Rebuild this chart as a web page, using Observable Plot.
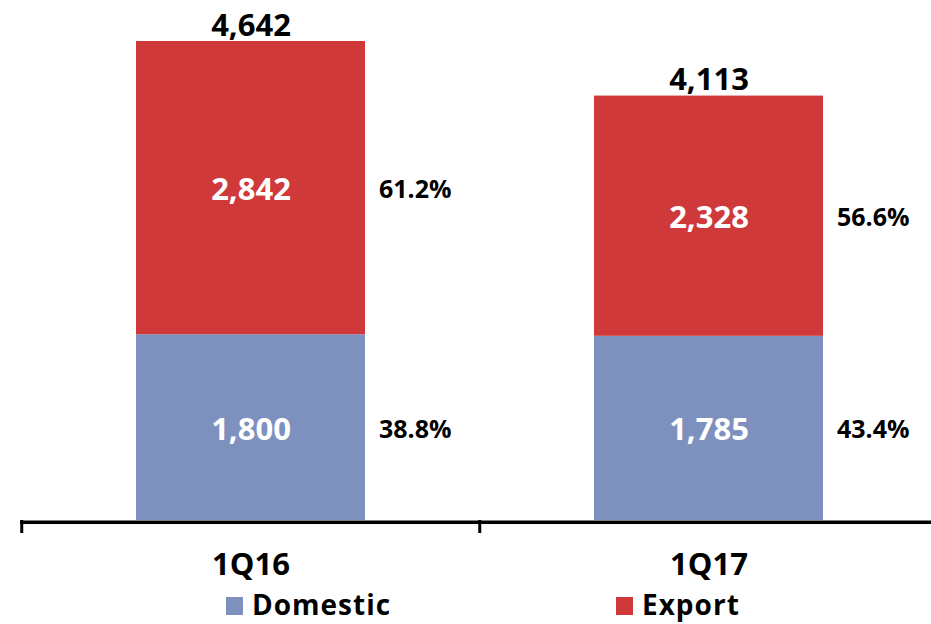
<!DOCTYPE html>
<html>
<head>
<meta charset="utf-8">
<script src="https://cdn.jsdelivr.net/npm/d3@7"></script>
<script src="https://cdn.jsdelivr.net/npm/@observablehq/plot@0.6"></script>
<style>
  html, body { margin: 0; padding: 0; background: #fff; }
  #wrap { position: relative; width: 931px; height: 624px; font-family: "Open Sans", sans-serif; overflow: hidden; }
  #legend { position: absolute; top: 585px; left: 0; width: 931px; height: 38px; }
  .item { position: absolute; top: 0; display: flex; align-items: center; height: 38px; line-height: 38px;
          font-size: 28px; font-weight: 700; color: #000; white-space: nowrap; letter-spacing: 1px; }
  .sw { width: 17px; height: 18px; margin-right: 9px; margin-top: 4px; flex: none; }
</style>
</head>
<body>
<div id="wrap"><div id="chart"></div><div id="legend"></div></div>
<script>
const categories = ["1Q16", "1Q17"];
const seriesNames = ["Domestic", "Export"];
const seriesColors = ["#7E91BE", "#CF393A"];
const domesticValues = [1800, 1785];
const exportValues = [2842, 2328];
const domesticPct = ["38.8%", "43.4%"];
const exportPct = ["61.2%", "56.6%"];
const totals = [4642, 4113];

const fmt = d3.format(",");

const rows = [];
categories.forEach((c, i) => {
  rows.push({cat: c, series: "Domestic", value: domesticValues[i], pct: domesticPct[i]});
  rows.push({cat: c, series: "Export", value: exportValues[i], pct: exportPct[i]});
});
const totalRows = categories.map((c, i) => ({cat: c, total: totals[i]}));

const chart = Plot.plot({
  width: 931,
  height: 585,
  marginTop: 41,
  marginBottom: 65,
  marginLeft: 20,
  marginRight: 0,
  style: {fontFamily: "Open Sans, sans-serif", background: "#fff", overflow: "visible"},
  x: {type: "band", domain: categories, range: [21, 938], paddingInner: 0.5, paddingOuter: 0.25, axis: null},
  y: {domain: [0, d3.max(totals)], nice: false, axis: null},
  color: {domain: seriesNames, range: seriesColors},
  marks: [
    Plot.barY(rows, Plot.stackY({x: "cat", y: "value", z: "series", fill: "series", order: seriesNames})),
    Plot.ruleY([0], {stroke: "#000", strokeWidth: 3.5, dy: 1.8}),
    Plot.ruleX(categories, {x: d => d, y1: 0, y2: 0, dx: -229.25, insetBottom: -13, stroke: "#000", strokeWidth: 3}),
    Plot.text(rows, Plot.stackY({x: "cat", y: "value", z: "series", order: seriesNames,
      text: d => fmt(d.value), fill: "#fff", fontSize: 31, fontWeight: 700, dy: 2})),
    Plot.text(rows, Plot.stackY({x: "cat", y: "value", z: "series", order: seriesNames,
      text: "pct", fill: "#000", fontSize: 25, fontWeight: 700, textAnchor: "start", dx: 128, dy: 2})),
    Plot.text(totalRows, {x: "cat", y: "total", text: d => fmt(d.total), lineAnchor: "bottom",
      dy: -6, fill: "#000", fontSize: 31, fontWeight: 700}),
    Plot.axisX({tickSize: 0, tickPadding: 32, fontSize: 31, fontWeight: 700, label: null, fill: "#000"})
  ]
});
document.getElementById("chart").appendChild(chart);

const legendLeft = [226, 616];
const legend = document.getElementById("legend");
seriesNames.forEach((s, i) => {
  const item = document.createElement("div");
  item.className = "item";
  item.style.left = legendLeft[i] + "px";
  const sw = document.createElement("div");
  sw.className = "sw";
  sw.style.background = seriesColors[i];
  item.appendChild(sw);
  const label = document.createElement("span");
  label.textContent = s;
  item.appendChild(label);
  legend.appendChild(item);
});
</script>
</body>
</html>
